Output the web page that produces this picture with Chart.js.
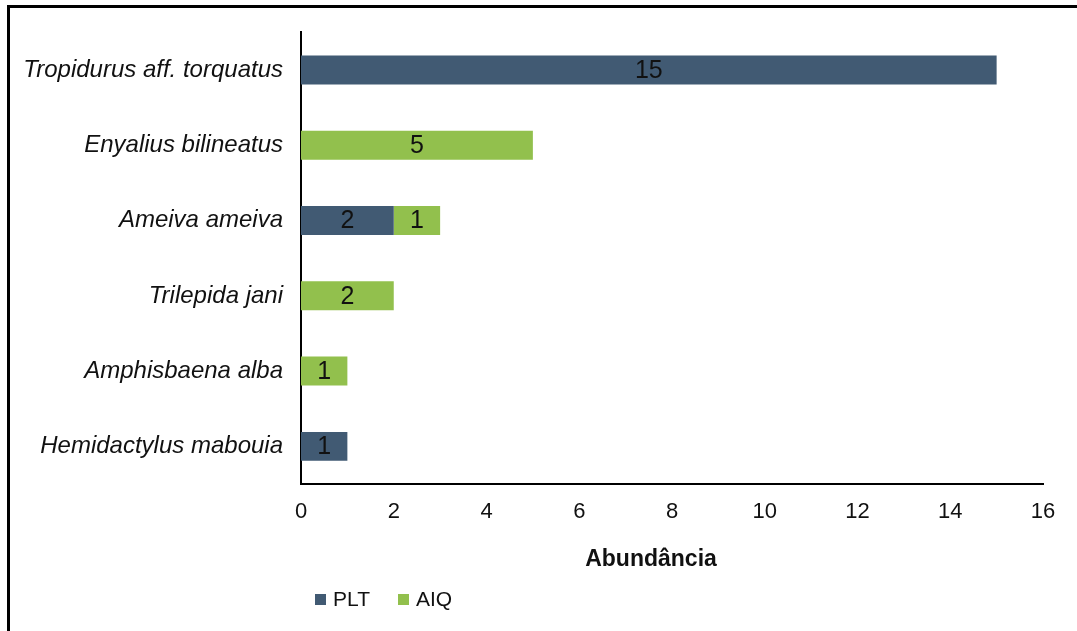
<!DOCTYPE html>
<html>
<head>
<meta charset="utf-8">
<script src="https://cdn.jsdelivr.net/npm/chart.js@4/dist/chart.umd.min.js"></script>
<style>
  html, body { margin: 0; padding: 0; background: #fff; }
  #wrap { position: relative; width: 1077px; height: 631px; overflow: hidden;
          font-family: Arial, "Liberation Sans", sans-serif; color: #111; }
  #frame { position: absolute; left: 7px; top: 5px; right: -10px; bottom: -10px;
           border-left: 3px solid #000; border-top: 3px solid #000; pointer-events: none; }
  #xtitle { position: absolute; left: 551px; width: 200px; top: 545px; text-align: center;
            font-size: 23px; font-weight: bold; }
  #legend { position: absolute; left: 315px; top: 587px;
            font-size: 21px; display: flex; align-items: center; }
  .item { display: flex; align-items: center; margin-right: 28px; }
  .box { width: 11px; height: 11px; margin-right: 7px; }
</style>
</head>
<body>
<div id="wrap">
  <canvas id="chart"></canvas>
  <div id="frame"></div>
  <div id="xtitle">Abundância</div>
  <div id="legend"></div>
</div>
<script>
const species = [
  'Tropidurus aff. torquatus',
  'Enyalius bilineatus',
  'Ameiva ameiva',
  'Trilepida jani',
  'Amphisbaena alba',
  'Hemidactylus mabouia'
];
const pltValues = [15, 0, 2, 0, 0, 1];
const aiqValues = [0, 5, 1, 2, 1, 0];
const seriesNames = ['PLT', 'AIQ'];
const seriesColors = ['#415A73', '#92C04D'];
const xTicks = [0, 2, 4, 6, 8, 10, 12, 14, 16];

const FONT = 'Arial, "Liberation Sans", sans-serif';

// draws the value in the middle of each bar (zeros skipped)
const barLabels = {
  id: 'barLabels',
  afterDatasetsDraw(chart) {
    const ctx = chart.ctx;
    ctx.save();
    ctx.font = '25px ' + FONT;
    ctx.fillStyle = '#111';
    ctx.textAlign = 'center';
    ctx.textBaseline = 'middle';
    chart.data.datasets.forEach((ds, i) => {
      const meta = chart.getDatasetMeta(i);
      meta.data.forEach((bar, j) => {
        const v = ds.data[j];
        if (!v) return;
        const p = bar.getCenterPoint();
        ctx.fillText(String(v), p.x, p.y + 1);
      });
    });
    ctx.restore();
  }
};

new Chart(document.getElementById('chart'), {
  type: 'bar',
  data: {
    labels: species,
    datasets: [
      { label: seriesNames[0], data: pltValues, backgroundColor: seriesColors[0] },
      { label: seriesNames[1], data: aiqValues, backgroundColor: seriesColors[1] }
    ]
  },
  options: {
    indexAxis: 'y',
    responsive: true,
    maintainAspectRatio: false,
    animation: false,
    datasets: { bar: { barPercentage: 0.385, categoryPercentage: 1 } },
    layout: { padding: { left: 0, right: 34, top: 31, bottom: 61 } },
    plugins: {
      legend: { display: false },
      tooltip: { enabled: false }
    },
    scales: {
      x: {
        stacked: true,
        min: 0,
        max: 16,
        afterBuildTicks: (s) => { s.ticks = xTicks.map(v => ({ value: v })); },
        afterFit: (s) => { s.height = 86; },
        grid: { display: false, drawTicks: false },
        border: { display: true, color: '#000', width: 2 },
        ticks: { color: '#111', font: { family: FONT, size: 22 }, padding: 15, maxRotation: 0 }
      },
      y: {
        stacked: true,
        afterFit: (s) => { s.width = 301; },
        grid: { display: false, drawTicks: false },
        border: { display: true, color: '#000', width: 2 },
        ticks: { color: '#111', font: { family: FONT, size: 24, style: 'italic' }, padding: 18 }
      }
    }
  },
  plugins: [barLabels]
});

// legend below the chart
const legend = document.getElementById('legend');
seriesNames.forEach((name, i) => {
  const item = document.createElement('div');
  item.className = 'item';
  const box = document.createElement('span');
  box.className = 'box';
  box.style.background = seriesColors[i];
  const txt = document.createElement('span');
  txt.textContent = name;
  item.appendChild(box);
  item.appendChild(txt);
  legend.appendChild(item);
});
</script>
</body>
</html>
